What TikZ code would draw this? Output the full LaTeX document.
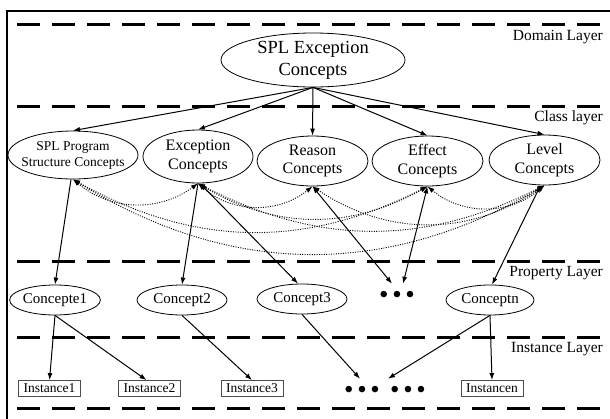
\documentclass[tikz,border=0pt]{standalone}
\usepackage{fontspec}
\setmainfont{Liberation Serif}
\usetikzlibrary{shapes.geometric,arrows.meta}
\begin{document}
\begin{tikzpicture}[x=1pt,y=-1pt,
  >={Latex[length=7pt,width=5pt]},
  ell/.style={draw,ellipse,line width=0.8pt,inner sep=0pt},
  sarrow/.style={line width=1pt},
  dline/.style={line width=0.9pt,dash pattern=on 1pt off 1.4pt},
  layerline/.style={line width=3pt,dash pattern=on 23pt off 12pt},
  layerlabel/.style={anchor=east,font=\fontsize{15.5}{18}\selectfont,inner sep=0pt},
  inst/.style={draw=black!70,line width=0.8pt,minimum width=62pt,minimum height=16pt,inner sep=0pt,font=\fontsize{13.5}{15}\selectfont},
  cls/.style={font=\fontsize{16}{18.5}\selectfont,align=center},
  prop/.style={ell,minimum width=90pt,minimum height=30pt,font=\fontsize{15}{17}\selectfont},
  dots/.style={inner sep=0pt,font=\fontsize{27}{27}\selectfont},
]
\useasboundingbox (0,0) rectangle (610,418);
% frame
\draw[line width=2pt] (6.7,420) -- (6.7,11) -- (612,11);
% layer lines
\foreach \yy in {24,106,261,337,408}{
  \draw[layerline] (17,\yy) -- (603,\yy);
}
% layer labels
\node[layerlabel] (lbd) at (603,37) {Domain Layer};
\node[layerlabel] (lbc) at (603,118) {Class layer};
\node[layerlabel] (lbp) at (603,273) {Property Layer};
\node[layerlabel] (lbi) at (603,349) {Instance Layer};

% domain
\node[ell,minimum width=184pt,minimum height=54pt,
  label={[cls,font=\fontsize{18.5}{22}\selectfont]center:{SPL Exception\\Concepts}}] (top) at (313,60) {};

% class layer
\node[ell,minimum width=130pt,minimum height=48pt,
  label={[cls,font=\fontsize{13.5}{16}\selectfont]center:{SPL Program\\Structure Concepts}}] (sp) at (73,155) {};
\node[ell,minimum width=110pt,minimum height=53pt,
  label={[cls,font=\fontsize{16}{19}\selectfont]center:{Exception\\Concepts}}] (ex) at (198,156.5) {};
\node[ell,minimum width=111pt,minimum height=50pt,
  label={[cls]center:{Reason\\Concepts}}] (re) at (312.5,161) {};
\node[ell,minimum width=111pt,minimum height=50pt,
  label={[cls]center:{Effect\\Concepts}}] (ef) at (427.5,161) {};
\node[ell,minimum width=111pt,minimum height=50pt,
  label={[cls]center:{Level\\Concepts}}] (le) at (544.5,160) {};

% property layer
\node[prop] (c1) at (55,300) {Concepte1};
\node[prop] (c2) at (182,300) {Concept2};
\node[prop] (c3) at (302,299) {Concept3};
\node[dots] (pdots) at (397,297) {•\hspace{3.6pt}•\hspace{3.6pt}•};
\node[prop,minimum width=88pt] (cn) at (490,300) {Conceptn};

% instance layer
\node[inst] (i1) at (49.5,388.5) {Instance1};
\node[inst] (i2) at (149.5,388.5) {Instance2};
\node[inst] (i3) at (252,388.5) {Instance3};
\node[dots] (idotsa) at (362,392) {•\hspace{3.6pt}•\hspace{3.6pt}•};
\node[dots] (idotsb) at (408,392) {•\hspace{3.6pt}•\hspace{3.6pt}•};
\node[inst] (in) at (492,388.5) {Instancen};

% domain -> class
\foreach \t in {sp,ex,re,ef,le}{
  \draw[sarrow,->] (top.south) -- (\t.north);
}

% dotted relations among class concepts
\draw[dline,<->] (sp.south) to[bend right=38] (ex.south);
\draw[dline,<->] (sp.south) to[bend right=28] (ef.south);
\draw[dline,<->] (sp.south) to[bend right=31] (le.south);
\draw[dline,<->] (ex.south) to[bend right=40] (re.south);
\draw[dline,<->] (ex.south) to[bend right=30] (ef.south);
\draw[dline,<->] (ex.south) to[bend right=27] (le.south);
\draw[dline,<->] (re.south) to[bend right=34] (le.south);
\draw[dline,<->] (ef.south) to[bend right=40] (le.south);

% class -> property
\draw[sarrow,->] ([xshift=-2pt]sp.south) -- (c1.north);
\draw[sarrow,->] (ex.south) -- (c2.north);
\draw[sarrow,<->] ([xshift=2pt]ex.south) -- ([xshift=-4pt]c3.north);
\draw[sarrow,<->] (re.south) -- ([xshift=-5pt,yshift=7pt]pdots.north);
\draw[sarrow,<->] (ef.south) -- ([xshift=6pt,yshift=7pt]pdots.north);
\draw[sarrow,<->] ([xshift=-4pt]le.south) -- ([xshift=2pt]cn.north);

% property -> instance
\draw[sarrow,->] (c1.south) -- (i1.north);
\draw[sarrow,->] (c1.south) -- ([xshift=-3pt]i2.north);
\draw[sarrow,->] (c2.south) -- (i3.north);
\draw[sarrow,->] (c3.south) -- ([xshift=-2pt,yshift=7pt]idotsa.north);
\draw[sarrow,->] (cn.south) -- ([xshift=-20pt,yshift=7pt]idotsb.north);
\draw[sarrow,->] (cn.south) -- (in.north);
\end{tikzpicture}
\end{document}
